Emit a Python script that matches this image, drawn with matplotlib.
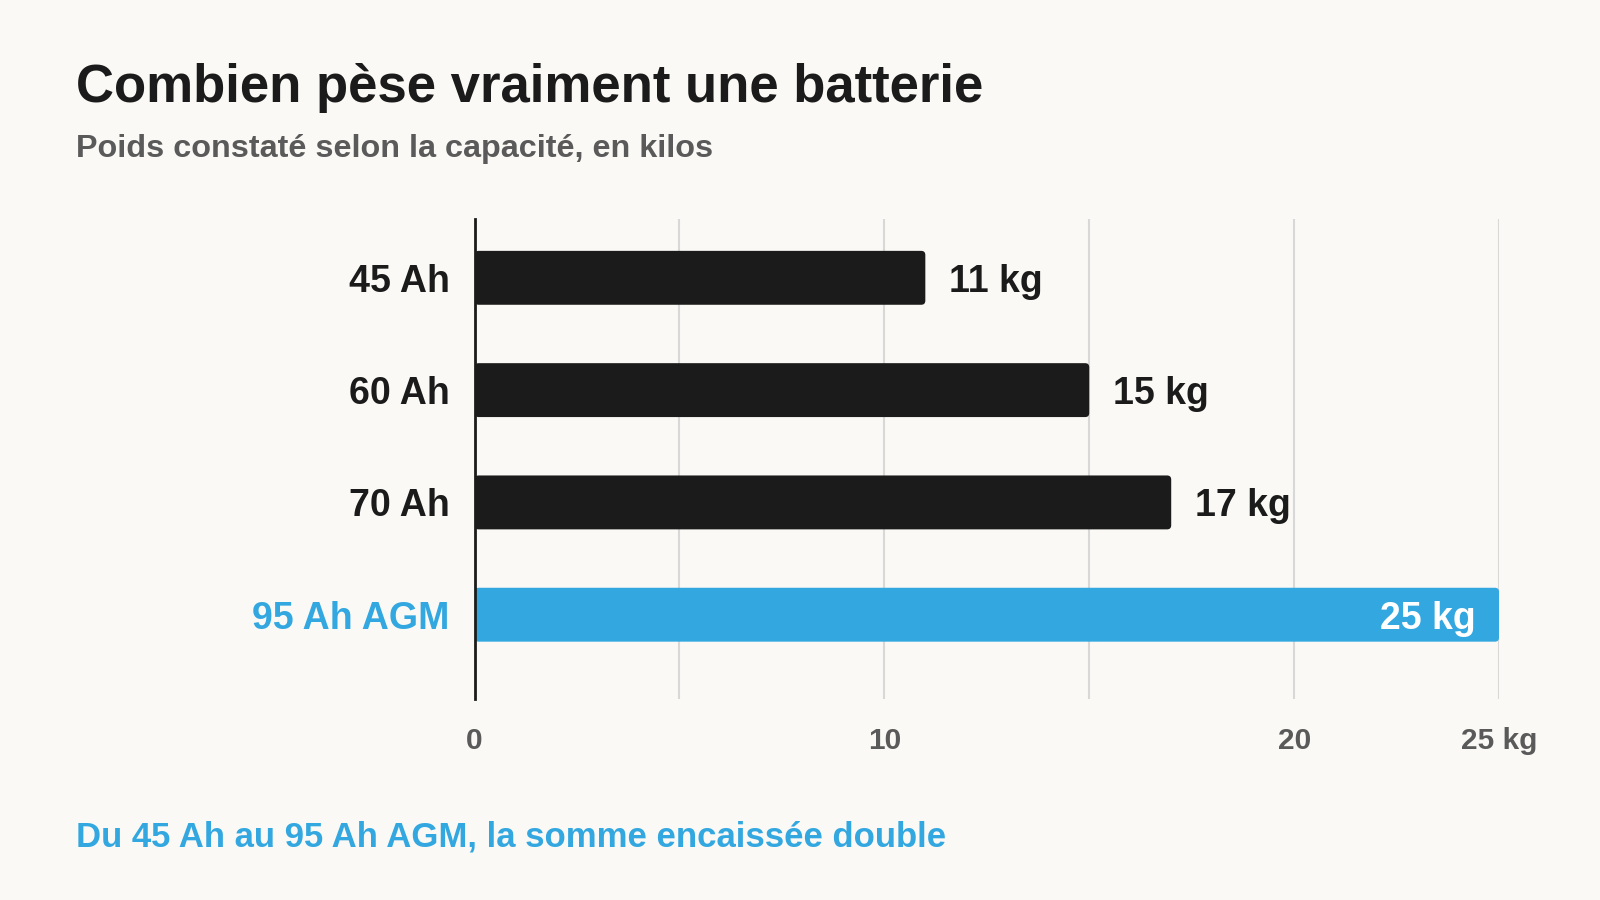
import numpy as np
import matplotlib
matplotlib.use('Agg')
from matplotlib import pyplot as plt
from matplotlib.patches import FancyBboxPatch

categories = ['45 Ah', '60 Ah', '70 Ah', '95 Ah AGM']
weights = [11, 15, 17, 25]
value_labels = ['11 kg', '15 kg', '17 kg', '25 kg']
highlight = [False, False, False, True]
tick_values = [0, 10, 20, 25]
tick_labels = ['0', '10', '20', '25 kg']
grid_values = [5, 15]

title = 'Combien pèse vraiment une batterie'
subtitle = 'Poids constaté selon la capacité, en kilos'
footer = 'Du 45 Ah au 95 Ah AGM, la somme encaissée double'

bg = '#faf9f5'
dark = '#1b1b1b'
blue = '#33a7e0'
grey_text = '#5a5a5a'

plt.rcParams['font.family'] = ['Liberation Sans', 'DejaVu Sans']
plt.rcParams['font.weight'] = 'bold'

fig = plt.figure(figsize=(16, 9), dpi=100, facecolor=bg)
ax = fig.add_axes([0.2966, 0.2234, 0.9369 - 0.2966, 0.7562 - 0.2234])
ax.set_facecolor(bg)

y = np.arange(len(categories))
bar_h = 0.48
ax.set_xlim(0, 25)
ax.set_ylim(3.75, -0.52)

# rounded bars
for yi, w, hl in zip(y, weights, highlight):
    color = blue if hl else dark
    patch = FancyBboxPatch((0, yi - bar_h / 2), w, bar_h,
                           boxstyle='round,pad=0,rounding_size=0.1',
                           mutation_aspect=0.364,
                           facecolor=color, edgecolor='none', zorder=3)
    ax.add_patch(patch)

for yi, w, lab, hl in zip(y, weights, value_labels, highlight):
    if hl:
        ax.annotate(lab, (w, yi), xytext=(-17, 0), textcoords='offset points',
                    ha='right', va='center_baseline', fontsize=27, color='white',
                    fontweight='bold', zorder=4)
    else:
        ax.annotate(lab, (w, yi), xytext=(17, 0), textcoords='offset points',
                    ha='left', va='center_baseline', fontsize=27, color=dark,
                    fontweight='bold', zorder=4)

ax.set_yticks(y)
ax.set_yticklabels(categories, fontsize=27, fontweight='bold')
for lbl, hl in zip(ax.get_yticklabels(), highlight):
    lbl.set_color(blue if hl else dark)
    lbl.set_verticalalignment('center_baseline')
ax.tick_params(axis='y', length=0, pad=18)

ax.set_xticks(tick_values)
ax.set_xticklabels(tick_labels, fontsize=21.5, fontweight='bold', color=grey_text)
ax.set_xticks(grid_values, minor=True)
ax.tick_params(axis='x', which='both', length=0, pad=20)
ax.grid(axis='x', which='both', color='#d8d8d8', linewidth=1.5, zorder=0)

for s in ['top', 'right', 'bottom']:
    ax.spines[s].set_visible(False)
ax.spines['left'].set_color(dark)
ax.spines['left'].set_linewidth(2)
ax.spines['left'].set_zorder(5)

fig.text(0.0478, 0.8866, title, fontsize=38, fontweight='bold', color=dark, va='baseline')
fig.text(0.0478, 0.8254, subtitle, fontsize=23.3, fontweight='bold', color=grey_text, va='baseline')
fig.text(0.0478, 0.059, footer, fontsize=25, fontweight='bold', color=blue, va='baseline')

fig.savefig('out.png', facecolor=bg)
